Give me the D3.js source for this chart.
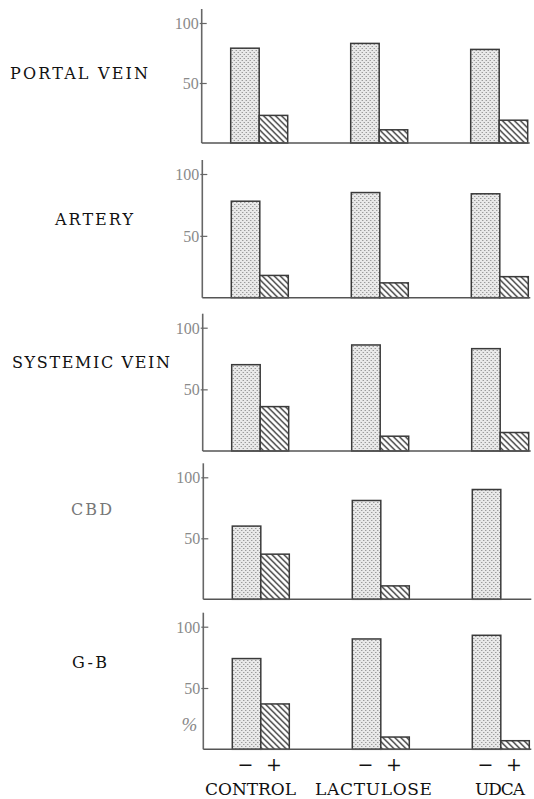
<!DOCTYPE html>
<html><head><meta charset="utf-8">
<script src="https://cdn.jsdelivr.net/npm/d3@7"></script>
<style>body{margin:0;background:#fff}svg{display:block}</style>
</head><body>
<svg id="c" width="534" height="799"></svg>
<script>
// ---- data ----
const groups = ["CONTROL", "LACTULOSE", "UDCA"];
const treatments = ["−", "+"];
const panelNames = ["PORTAL VEIN", "ARTERY", "SYSTEMIC VEIN", "CBD", "G-B"];
const minusValues = [
  [79, 83, 78],
  [78, 85, 84],
  [70, 86, 83],
  [60, 81, 90],
  [74, 90, 93]
];
const plusValues = [
  [23, 11, 19],
  [18, 12, 17],
  [36, 12, 15],
  [37, 11, null],
  [37, 10, 7]
];
const tickValues = [50, 100];
const unitLabel = "%";

// ---- layout ----
const layout = [
  {ax: 201.7, top: 23,    base: 143,   lx: 10, ly: 79,  lw: 138, col: "#111"},
  {ax: 202.3, top: 174,   base: 297.7, lx: 55, ly: 225, lw: 78,  col: "#111"},
  {ax: 202.7, top: 327.7, base: 451,   lx: 12, ly: 368, lw: 158, col: "#111"},
  {ax: 203.3, top: 477.3, base: 599.3, lx: 71, ly: 515, lw: 41,  col: "#777"},
  {ax: 203.3, top: 626.7, base: 749.3, lx: 72, ly: 668, lw: 35,  col: "#111"}
];
const serif = "'DejaVu Serif', serif";
const svg = d3.select("#c");
const defs = svg.append("defs");

const dots = defs.append("pattern").attr("id", "dots").attr("patternUnits", "userSpaceOnUse")
  .attr("width", 4).attr("height", 4);
dots.append("rect").attr("width", 4).attr("height", 4).attr("fill", "#e9e9e9");
dots.append("rect").attr("x", 0).attr("y", 0).attr("width", 1).attr("height", 1).attr("fill", "#7a7a7a");
dots.append("rect").attr("x", 2).attr("y", 2).attr("width", 1).attr("height", 1).attr("fill", "#7a7a7a");

const hatch = defs.append("pattern").attr("id", "hatch").attr("patternUnits", "userSpaceOnUse")
  .attr("width", 6).attr("height", 6);
hatch.append("rect").attr("width", 6).attr("height", 6).attr("fill", "#fff");
hatch.append("path").attr("d", "M0,0 L6,6 M-1,5 L1,7 M5,-1 L7,1")
  .attr("stroke", "#333").attr("stroke-width", 1.3);

const groupScale = d3.scaleBand().domain(groups).range([29, 326]).paddingInner(0.525).paddingOuter(0);
const subScale = d3.scaleBand().domain(treatments).range([0, groupScale.bandwidth()]);

layout.forEach((L, i) => {
  const y = d3.scaleLinear().domain([0, 100]).range([L.base, L.top]);
  const g = svg.append("g").attr("transform", `translate(${L.ax},0)`);

  // bars
  const rows = [];
  groups.forEach((grp, j) => {
    rows.push({grp, t: treatments[0], v: minusValues[i][j]});
    if (plusValues[i][j] != null) rows.push({grp, t: treatments[1], v: plusValues[i][j]});
  });
  g.selectAll("rect.bar").data(rows).join("rect").attr("class", "bar")
    .attr("x", d => groupScale(d.grp) + subScale(d.t))
    .attr("width", subScale.bandwidth())
    .attr("y", d => y(d.v))
    .attr("height", d => y(0) - y(d.v))
    .attr("fill", d => d.t === treatments[0] ? "url(#dots)" : "url(#hatch)")
    .attr("stroke", "#3a3a3a").attr("stroke-width", 1.5);

  // axis
  const axis = d3.axisLeft(y).tickValues(tickValues).tickSize(0).tickPadding(0).tickFormat(d3.format("d"));
  const ag = g.append("g").call(axis);
  ag.select(".domain").remove();
  ag.selectAll(".tick text").attr("x", -3).attr("dy", "0.35em")
    .attr("font-family", "'Liberation Serif', serif").attr("font-size", 16).attr("fill", "#8a8a8a");
  ag.selectAll(".tick").append("line").attr("x1", -2).attr("x2", 5).attr("stroke", "#666").attr("stroke-width", 1.2);
  g.append("line").attr("x1", 0).attr("x2", 0).attr("y1", y(100) - 14).attr("y2", y(0))
    .attr("stroke", "#666").attr("stroke-width", 1.6);
  g.append("line").attr("x1", 0).attr("x2", 328).attr("y1", y(0)).attr("y2", y(0))
    .attr("stroke", "#555").attr("stroke-width", 1.6);

  // panel label
  svg.append("text").attr("x", L.lx).attr("y", L.ly).text(panelNames[i])
    .attr("font-family", serif).attr("font-size", 16).attr("fill", L.col)
    .attr("textLength", L.lw).attr("lengthAdjust", "spacing");

  if (i === layout.length - 1) {
    svg.append("text").attr("x", L.ax - 6).attr("y", y(15)).attr("text-anchor", "end").text(unitLabel)
      .attr("font-family", "'Liberation Serif', serif").attr("font-style", "italic")
      .attr("font-size", 19).attr("fill", "#888");
    // -/+ labels
    groups.forEach(grp => {
      treatments.forEach(t => {
        svg.append("text").attr("x", L.ax + groupScale(grp) + subScale(t) + subScale.bandwidth() / 2 + (t === "+" ? -1 : -1))
          .attr("y", 771).attr("text-anchor", "middle").text(t)
          .attr("font-family", serif).attr("font-size", 19).attr("fill", "#111");
      });
    });
  }
});

// group labels
const groupLabelPos = [{x: 205, w: 91}, {x: 315, w: 117}, {x: 475, w: 50}];
groups.forEach((grp, j) => {
  svg.append("text").attr("x", groupLabelPos[j].x).attr("y", 795).text(grp)
    .attr("font-family", serif).attr("font-size", 17).attr("fill", "#111")
    .attr("textLength", groupLabelPos[j].w).attr("lengthAdjust", "spacing");
});
</script>
</body></html>
